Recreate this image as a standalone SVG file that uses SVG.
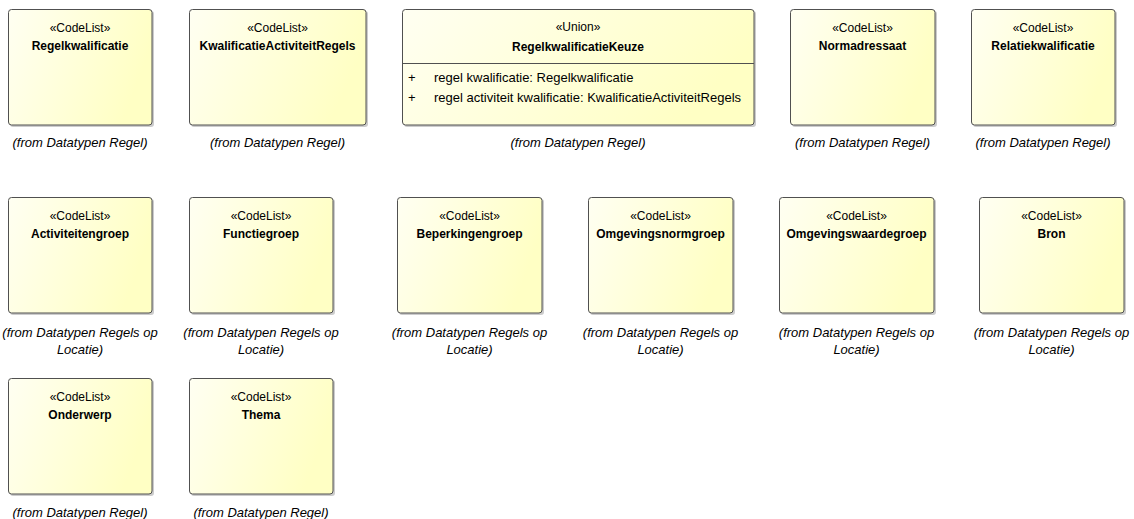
<svg xmlns="http://www.w3.org/2000/svg" width="1134" height="519" viewBox="0 0 1134 519">
<defs>
<linearGradient id="g" x1="0" y1="0" x2="1" y2="0.3">
<stop offset="0" stop-color="#fffff2"/>
<stop offset="1" stop-color="#ffffc4"/>
</linearGradient>
<style>
.box{fill:url(#g);stroke:#505050;stroke-width:1}
.sh{fill:#9a9a9a;opacity:0.5}
.st{font-family:"Liberation Sans",Arial,sans-serif;font-size:12px;fill:#000;text-anchor:middle}
.nm{font-family:"Liberation Sans",Arial,sans-serif;font-size:12px;font-weight:bold;fill:#000;text-anchor:middle}
.at{font-family:"Liberation Sans",Arial,sans-serif;font-size:13px;fill:#000}
.lb{font-family:"Liberation Sans",Arial,sans-serif;font-size:13px;font-style:italic;fill:#000;text-anchor:middle}
.sep{stroke:#505050;stroke-width:1}
</style>
</defs>
<rect width="1134" height="519" fill="#fff"/>
<g id="connectors"></g>

<g id="Regelkwalificatie">
<rect class="sh" x="10" y="11" width="144" height="116" rx="3"/>
<rect class="box" x="8.5" y="9.5" width="143.5" height="115.5" rx="3"/>
<text class="st" x="80" y="32">«CodeList»</text>
<text class="nm" x="80" y="50">Regelkwalificatie</text>
<text class="lb" x="80" y="147">(from Datatypen Regel)</text>
</g>

<g id="KwalificatieActiviteitRegels">
<rect class="sh" x="191" y="11" width="177" height="116" rx="3"/>
<rect class="box" x="189.5" y="9.5" width="176.5" height="115.5" rx="3"/>
<text class="st" x="277.5" y="32">«CodeList»</text>
<text class="nm" x="277.5" y="50">KwalificatieActiviteitRegels</text>
<text class="lb" x="277.5" y="147">(from Datatypen Regel)</text>
</g>

<g id="RegelkwalificatieKeuze">
<rect class="sh" x="404" y="11" width="352" height="116" rx="3"/>
<rect class="box" x="402.5" y="9.5" width="351.5" height="115.5" rx="3"/>
<text class="st" x="578" y="31">«Union»</text>
<text class="nm" x="578" y="51">RegelkwalificatieKeuze</text>
<line class="sep" x1="402.5" y1="63.5" x2="754" y2="63.5"/>
<text class="at" x="408" y="82">+</text>
<text class="at" x="434" y="82">regel kwalificatie: Regelkwalificatie</text>
<text class="at" x="408" y="102">+</text>
<text class="at" x="434" y="102">regel activiteit kwalificatie: KwalificatieActiviteitRegels</text>
<text class="lb" x="578" y="147">(from Datatypen Regel)</text>
</g>

<g id="Normadressaat">
<rect class="sh" x="792" y="11" width="145" height="116" rx="3"/>
<rect class="box" x="790.5" y="9.5" width="144.5" height="115.5" rx="3"/>
<text class="st" x="862.5" y="32">«CodeList»</text>
<text class="nm" x="862.5" y="50">Normadressaat</text>
<text class="lb" x="862.5" y="147">(from Datatypen Regel)</text>
</g>

<g id="Relatiekwalificatie">
<rect class="sh" x="973" y="11" width="144" height="116" rx="3"/>
<rect class="box" x="971.5" y="9.5" width="143.5" height="115.5" rx="3"/>
<text class="st" x="1043" y="32">«CodeList»</text>
<text class="nm" x="1043" y="50">Relatiekwalificatie</text>
<text class="lb" x="1043" y="147">(from Datatypen Regel)</text>
</g>

<g id="Activiteitengroep">
<rect class="sh" x="10" y="199" width="144" height="116" rx="3"/>
<rect class="box" x="8.5" y="197.5" width="143.5" height="115.5" rx="3"/>
<text class="st" x="80" y="220">«CodeList»</text>
<text class="nm" x="80" y="238">Activiteitengroep</text>
<text class="lb" x="80" y="337">(from Datatypen Regels op</text>
<text class="lb" x="80" y="354">Locatie)</text>
</g>

<g id="Functiegroep">
<rect class="sh" x="191" y="199" width="144" height="116" rx="3"/>
<rect class="box" x="189.5" y="197.5" width="143.5" height="115.5" rx="3"/>
<text class="st" x="261" y="220">«CodeList»</text>
<text class="nm" x="261" y="238">Functiegroep</text>
<text class="lb" x="261" y="337">(from Datatypen Regels op</text>
<text class="lb" x="261" y="354">Locatie)</text>
</g>

<g id="Beperkingengroep">
<rect class="sh" x="399" y="199" width="145" height="116" rx="3"/>
<rect class="box" x="397.5" y="197.5" width="144.5" height="115.5" rx="3"/>
<text class="st" x="469.5" y="220">«CodeList»</text>
<text class="nm" x="469.5" y="238">Beperkingengroep</text>
<text class="lb" x="469.5" y="337">(from Datatypen Regels op</text>
<text class="lb" x="469.5" y="354">Locatie)</text>
</g>

<g id="Omgevingsnormgroep">
<rect class="sh" x="590" y="199" width="145" height="116" rx="3"/>
<rect class="box" x="588.5" y="197.5" width="144.5" height="115.5" rx="3"/>
<text class="st" x="660.5" y="220">«CodeList»</text>
<text class="nm" x="660.5" y="238">Omgevingsnormgroep</text>
<text class="lb" x="660.5" y="337">(from Datatypen Regels op</text>
<text class="lb" x="660.5" y="354">Locatie)</text>
</g>

<g id="Omgevingswaardegroep">
<rect class="sh" x="781" y="199" width="155" height="116" rx="3"/>
<rect class="box" x="779.5" y="197.5" width="154.5" height="115.5" rx="3"/>
<text class="st" x="856.5" y="220">«CodeList»</text>
<text class="nm" x="856.5" y="238">Omgevingswaardegroep</text>
<text class="lb" x="856.5" y="337">(from Datatypen Regels op</text>
<text class="lb" x="856.5" y="354">Locatie)</text>
</g>

<g id="Bron">
<rect class="sh" x="981" y="199" width="145" height="116" rx="3"/>
<rect class="box" x="979.5" y="197.5" width="144.5" height="115.5" rx="3"/>
<text class="st" x="1051.5" y="220">«CodeList»</text>
<text class="nm" x="1051.5" y="238">Bron</text>
<text class="lb" x="1051.5" y="337">(from Datatypen Regels op</text>
<text class="lb" x="1051.5" y="354">Locatie)</text>
</g>

<g id="Onderwerp">
<rect class="sh" x="10" y="380" width="144" height="116" rx="3"/>
<rect class="box" x="8.5" y="378.5" width="143.5" height="115.5" rx="3"/>
<text class="st" x="80" y="401">«CodeList»</text>
<text class="nm" x="80" y="419">Onderwerp</text>
<text class="lb" x="80" y="517">(from Datatypen Regel)</text>
</g>

<g id="Thema">
<rect class="sh" x="191" y="380" width="144" height="116" rx="3"/>
<rect class="box" x="189.5" y="378.5" width="143.5" height="115.5" rx="3"/>
<text class="st" x="261" y="401">«CodeList»</text>
<text class="nm" x="261" y="419">Thema</text>
<text class="lb" x="261" y="517">(from Datatypen Regel)</text>
</g>
</svg>
